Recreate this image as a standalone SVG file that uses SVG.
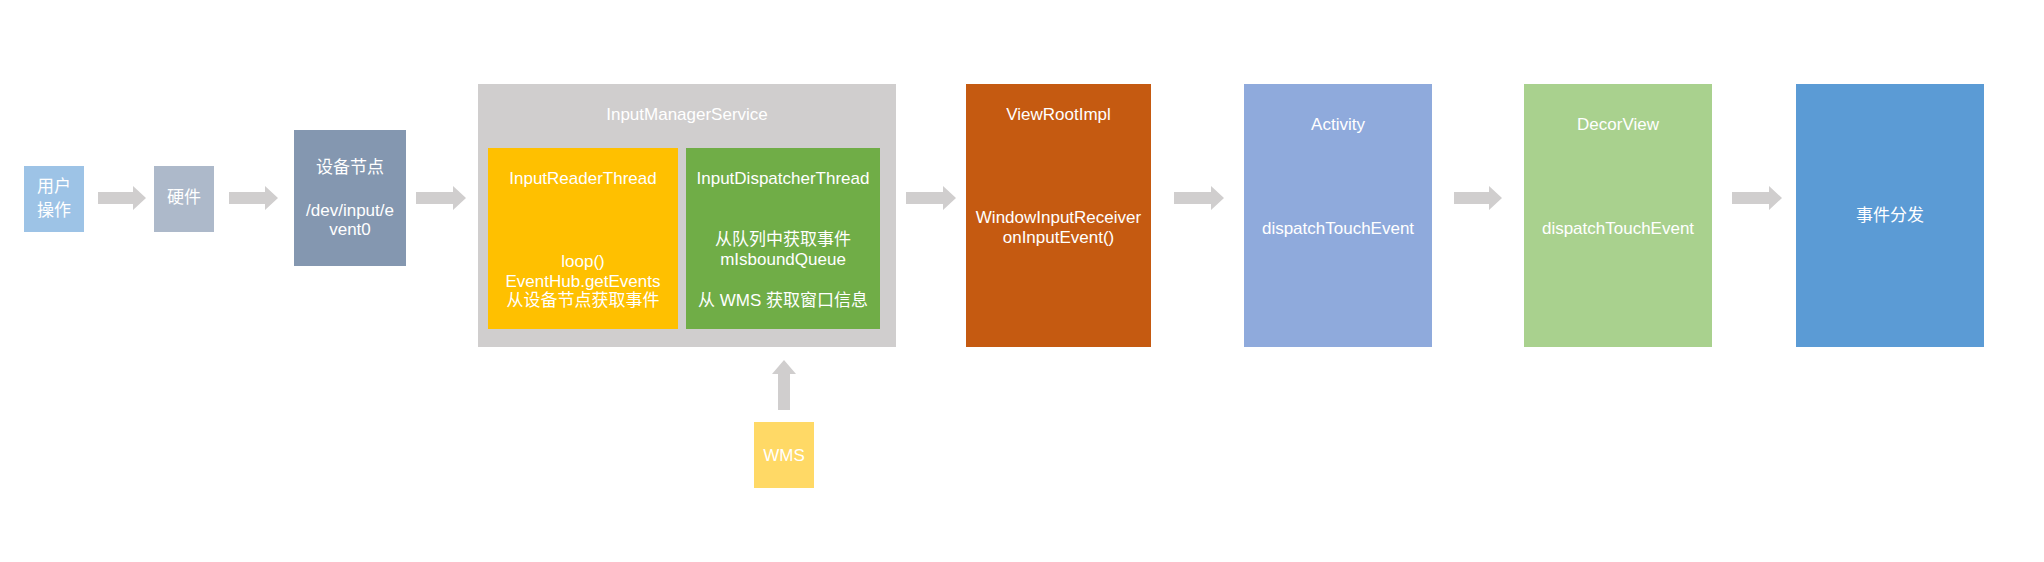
<svg xmlns="http://www.w3.org/2000/svg" width="2044" height="562" viewBox="0 0 2044 562">
<style>
text{font-family:"Liberation Sans","Noto Sans CJK SC",sans-serif;font-size:17px;fill:#ffffff;text-anchor:middle}
.arrow{fill:#D0CECE}
</style>
<rect width="2044" height="562" fill="#ffffff"/>
<g id="connectors">
<polygon class="arrow" points="98,192 133,192 133,186 146,198 133,210 133,204 98,204"/>
<polygon class="arrow" points="229,192 265,192 265,186 278,198 265,210 265,204 229,204"/>
<polygon class="arrow" points="416,192 453,192 453,186 466,198 453,210 453,204 416,204"/>
<polygon class="arrow" points="906,192 943,192 943,186 956,198 943,210 943,204 906,204"/>
<polygon class="arrow" points="1174,192 1211,192 1211,186 1224,198 1211,210 1211,204 1174,204"/>
<polygon class="arrow" points="1454,192 1489,192 1489,186 1502,198 1489,210 1489,204 1454,204"/>
<polygon class="arrow" points="1732,192 1769,192 1769,186 1782,198 1769,210 1769,204 1732,204"/>
<polygon class="arrow" points="778,410 778,374 772,374 784,360 796,374 790,374 790,410"/>
</g>
<g id="user">
<rect x="24" y="166" width="60" height="66" fill="#9DC3E6"/>
<text x="54" y="192">用户</text>
<text x="54" y="216">操作</text>
</g>
<g id="hardware">
<rect x="154" y="166" width="60" height="66" fill="#ADB9CA"/>
<text x="184" y="203">硬件</text>
</g>
<g id="device-node">
<rect x="294" y="130" width="112" height="136" fill="#8497B0"/>
<text x="350" y="173">设备节点</text>
<text x="350" y="216">/dev/input/e</text>
<text x="350" y="235">vent0</text>
</g>
<g id="input-manager-service">
<rect x="478" y="84" width="418" height="263" fill="#D0CECE"/>
<text x="687" y="120">InputManagerService</text>
</g>
<g id="input-reader-thread">
<rect x="488" y="148" width="190" height="181" fill="#FFC000"/>
<text x="583" y="184">InputReaderThread</text>
<text x="583" y="267">loop()</text>
<text x="583" y="287">EventHub.getEvents</text>
<text x="583" y="306">从设备节点获取事件</text>
</g>
<g id="input-dispatcher-thread">
<rect x="686" y="148" width="194" height="181" fill="#70AD47"/>
<text x="783" y="184">InputDispatcherThread</text>
<text x="783" y="245">从队列中获取事件</text>
<text x="783" y="265">mIsboundQueue</text>
<text x="783" y="306">从 WMS 获取窗口信息</text>
</g>
<g id="wms">
<rect x="754" y="422" width="60" height="66" fill="#FFD966"/>
<text x="784" y="461">WMS</text>
</g>
<g id="view-root-impl">
<rect x="966" y="84" width="185" height="263" fill="#C55A11"/>
<text x="1058.5" y="120">ViewRootImpl</text>
<text x="1058.5" y="223">WindowInputReceiver</text>
<text x="1058.5" y="243">onInputEvent()</text>
</g>
<g id="activity">
<rect x="1244" y="84" width="188" height="263" fill="#8FAADC"/>
<text x="1338" y="130">Activity</text>
<text x="1338" y="234">dispatchTouchEvent</text>
</g>
<g id="decor-view">
<rect x="1524" y="84" width="188" height="263" fill="#A9D18E"/>
<text x="1618" y="130">DecorView</text>
<text x="1618" y="234">dispatchTouchEvent</text>
</g>
<g id="event-dispatch">
<rect x="1796" y="84" width="188" height="263" fill="#5B9BD5"/>
<text x="1890" y="221">事件分发</text>
</g>
</svg>
